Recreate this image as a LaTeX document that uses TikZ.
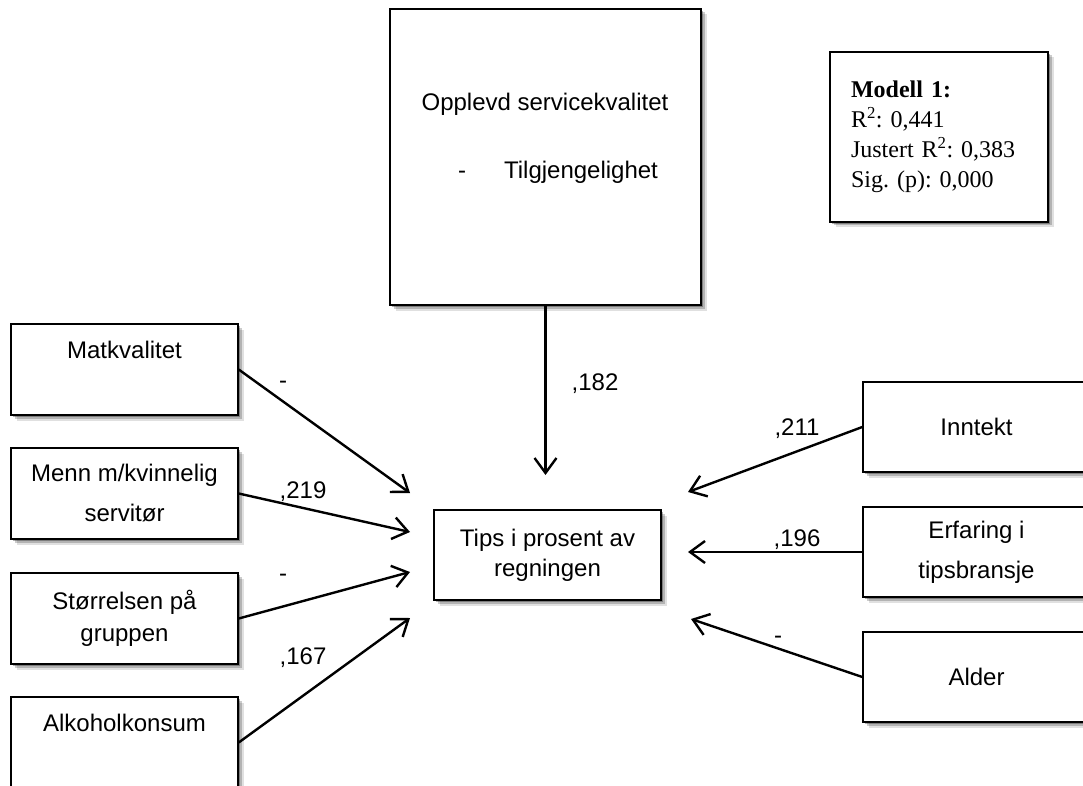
\documentclass[tikz,border=0pt]{standalone}
\usepackage{fontspec}
\setmainfont{Liberation Sans}
\newfontfamily\timesfont{Liberation Serif}
\frenchspacing
\usetikzlibrary{arrows.meta,shadows}

\begin{document}
\begin{tikzpicture}[x=1pt,y=-1pt,
    box/.style={draw,line width=1.4pt,fill=white,align=center,inner sep=0pt,
      font=\fontsize{24}{30}\selectfont,
      drop shadow={shadow xshift=5.5pt,shadow yshift=-5.5pt,opacity=.12,fill=black},
      drop shadow={shadow xshift=3.5pt,shadow yshift=-3.5pt,opacity=.2,fill=black},
      drop shadow={shadow xshift=2pt,shadow yshift=-2pt,opacity=.3,fill=black}},
    sidebox/.style={box,minimum width=227pt,minimum height=91pt},
    coef/.style={font=\fontsize{24}{30}\selectfont,text height=17pt,text depth=0pt,inner sep=0pt},
    effect/.style={line width=2.4pt,-{Straight Barb[length=15pt,width=22pt]}}]
        \useasboundingbox (0,0) rectangle (1083,786);
        \clip (0,0) rectangle (1083,786);
        % boxes
        \node[box,minimum width=311pt,minimum height=296pt] (serv) at (545.5,157) {};
        \node[font=\fontsize{24}{30}\selectfont] (servtxt) at (545,104) {Opplevd servicekvalitet};
        \node[font=\fontsize{24}{30}\selectfont] (servsub) at (558,172) {-\hspace{38pt}Tilgjengelighet};
        \node[box,minimum width=218pt,minimum height=170pt,text width=176pt,align=left,
              font=\timesfont\fontsize{24}{30}\selectfont] (modell) at (939,137)
              {\textbf{Modell 1:}\\R\textsuperscript{2}: 0,441\\Justert R\textsuperscript{2}: 0,383\\Sig. (p): 0,000};
        \node[box,minimum width=227pt,minimum height=90pt] (tips) at (547.5,555) {Tips i prosent av\\regningen};
        \node[sidebox] (mat) at (124.5,369.5) {Matkvalitet\\[10pt]~};
        \node[sidebox] (menn) at (124.5,493.5) {Menn m/kvinnelig\\[10pt]servitør};
        \node[sidebox] (stor) at (124.5,618.5) {Størrelsen på\\[2pt]gruppen};
        \node[sidebox] (alko) at (124.5,742.5) {Alkoholkonsum\\[10pt]~};
        \node[sidebox,minimum height=90pt] (inn) at (976.5,427) {Inntekt};
        \node[sidebox,minimum height=90pt] (erf) at (976.5,552) {Erfaring i\\[10pt]tipsbransje};
        \node[sidebox,minimum height=90pt] (alder) at (976.5,677) {Alder};
        % arrow ends
        \coordinate (tserv) at (545.5,475);
        \coordinate (tmat) at (410,493);
        \coordinate (tmenn) at (410,532);
        \coordinate (tstor) at (410,572);
        \coordinate (talko) at (410,618);
        \coordinate (tinn) at (688,492);
        \coordinate (terf) at (688,552);
        \coordinate (talder) at (691,619);
        \draw[effect] (serv.south) -- (tserv);
        \draw[effect] (mat.east) -- (tmat);
        \draw[effect] (menn.east) -- (tmenn);
        \draw[effect] (stor.east) -- (tstor);
        \draw[effect] (alko.east) -- (talko);
        \draw[effect] (inn.west) -- (tinn);
        \draw[effect] (erf.west) -- (terf);
        \draw[effect] (alder.west) -- (talder);
        % coefficients
        \node[coef] (cserv) at (595,382) {,182};
        \node[coef] (cmat) at (283,380) {-};
        \node[coef] (cmenn) at (303,490) {,219};
        \node[coef] (cstor) at (283,573) {-};
        \node[coef] (calko) at (303,656) {,167};
        \node[coef] (cinn) at (797,427) {,211};
        \node[coef] (cerf) at (797,538) {,196};
        \node[coef] (calder) at (778,635) {-};
\end{tikzpicture}
\end{document}
